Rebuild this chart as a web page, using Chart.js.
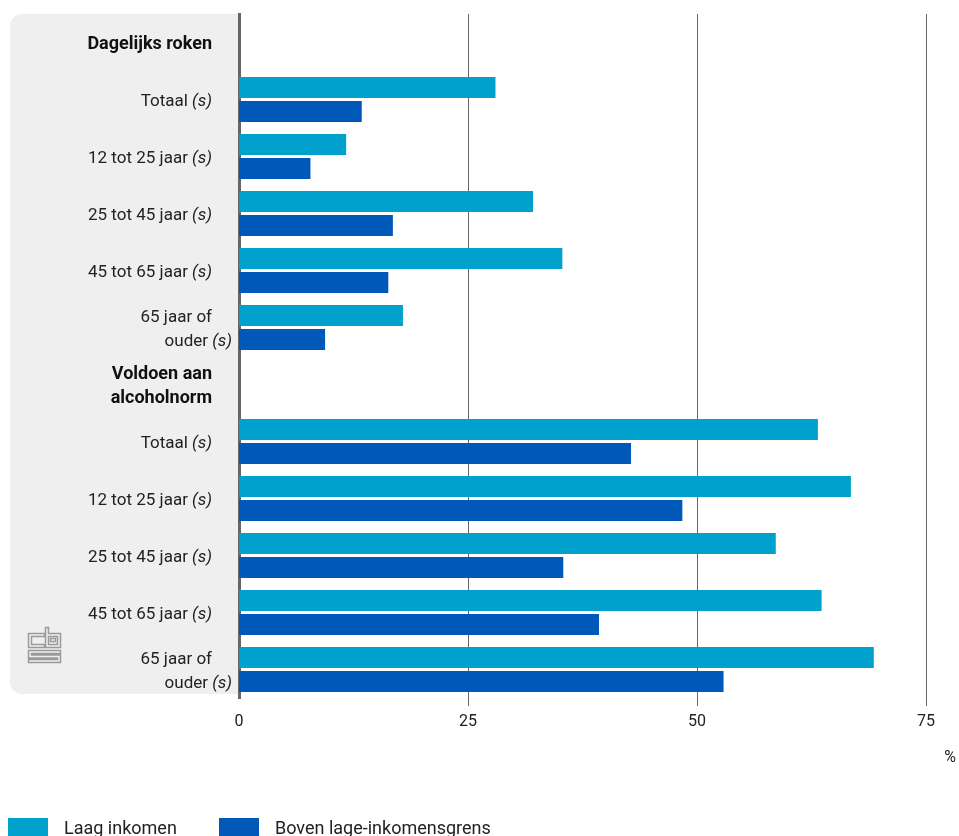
<!DOCTYPE html>
<html>
<head>
<meta charset="utf-8">
<script src="https://cdn.jsdelivr.net/npm/chart.js@4"></script>
<style>
  html, body { margin: 0; padding: 0; background: #fff; }
  #wrap { width: 959px; height: 836px; overflow: hidden; }
</style>
</head>
<body>
<div id="wrap"><canvas id="chart" width="959" height="836"></canvas></div>
<script>
// --- DATA ---
const categories = [
    ['Dagelijks roken'],
    ['Totaal'],
    ['12 tot 25 jaar'],
    ['25 tot 45 jaar'],
    ['45 tot 65 jaar'],
    ['65 jaar of', 'ouder'],
    ['Voldoen aan', 'alcoholnorm'],
    ['Totaal'],
    ['12 tot 25 jaar'],
    ['25 tot 45 jaar'],
    ['45 tot 65 jaar'],
    ['65 jaar of', 'ouder']
];
const isHeader = [true, false, false, false, false, false, true, false, false, false, false, false];
const suffix = '(s)';

const laagInkomen = [null, 28.0, 11.7, 32.1, 35.3, 17.9, null, 63.2, 66.8, 58.6, 63.6, 69.3];
const bovenGrens  = [null, 13.4, 7.8, 16.8, 16.3, 9.4, null, 42.8, 48.4, 35.4, 39.3, 52.9];

const seriesNames = ['Laag inkomen', 'Boven lage-inkomensgrens'];
const seriesColors = ['#00a1cd', '#0058b8'];
const xTicks = [0, 25, 50, 75];
const unitLabel = '%';

const FONT = 'Roboto, "Open Sans", sans-serif';

// --- PLUGIN: panel, labels, legend ---
const decorPlugin = {
    id: 'decor',
    beforeDraw(chart) {
        const { ctx, chartArea } = chart;
        // grey label panel, rounded on the left
        ctx.save();
        ctx.fillStyle = '#efefef';
        ctx.beginPath();
        ctx.roundRect(10, chartArea.top, chartArea.left - 10, 694 - chartArea.top, [12, 0, 0, 12]);
        ctx.fill();
        drawLogo(ctx, 28, 627);
        ctx.restore();
    },
    afterDraw(chart) {
        const { ctx } = chart;
        const yScale = chart.scales.y;
        const rightEdge = 212;

        ctx.save();
        ctx.textBaseline = 'middle';
        categories.forEach((lines, i) => {
            const yc = yScale.getPixelForValue(i) + 2;
            const lh = 23.5;
            const y0 = yc - (lines.length - 1) * lh / 2;
            lines.forEach((line, j) => {
                const y = y0 + j * lh;
                if (isHeader[i]) {
                    ctx.font = `bold 18px ${FONT}`;
                    ctx.fillStyle = '#111';
                    ctx.textAlign = 'right';
                    ctx.fillText(line, rightEdge, y);
                    return;
                }
                const last = j === lines.length - 1;
                ctx.fillStyle = '#222';
                if (!last) {
                    ctx.font = `17px ${FONT}`;
                    ctx.textAlign = 'right';
                    ctx.fillText(line, rightEdge, y);
                    return;
                }
                ctx.font = `italic 17px ${FONT}`;
                const sw = ctx.measureText(suffix).width;
                ctx.font = `17px ${FONT}`;
                const spaceW = ctx.measureText(' ').width;
                // wrapped labels: suffix hangs past the edge
                const mainRight = lines.length > 1 ? rightEdge - 4 : rightEdge - sw - spaceW;
                ctx.textAlign = 'right';
                ctx.fillText(line, mainRight, y);
                ctx.font = `italic 17px ${FONT}`;
                ctx.textAlign = 'left';
                ctx.fillText(suffix, mainRight + spaceW, y);
            });
        });

        // unit label
        ctx.font = `16px ${FONT}`;
        ctx.fillStyle = '#222';
        ctx.textAlign = 'center';
        ctx.fillText(unitLabel, 950, 758);

        // legend
        const legendX = [8, 219];
        ctx.font = `18px ${FONT}`;
        ctx.textAlign = 'left';
        ctx.textBaseline = 'alphabetic';
        seriesNames.forEach((name, k) => {
            ctx.fillStyle = seriesColors[k];
            ctx.fillRect(legendX[k], 818, 40, 20);
            ctx.fillStyle = '#222';
            ctx.fillText(name, legendX[k] + 56, 834);
        });
        ctx.restore();
    }
};

function drawLogo(ctx, x, y) {
    // simplified cbs mark, drawn as hollow strokes
    const paths = [
        [[x + 15, y + 8], [x + 2, y + 8], [x + 2, y + 19], [x + 15, y + 19]],
        [[x + 19, y + 2], [x + 19, y + 19], [x + 31, y + 19], [x + 31, y + 8], [x + 19, y + 8]],
        [[x + 24, y + 13], [x + 26, y + 13]],
        [[x + 31, y + 25], [x + 2, y + 25], [x + 2, y + 29.5], [x + 31, y + 29.5], [x + 31, y + 34], [x + 2, y + 34]]
    ];
    ctx.lineJoin = 'miter';
    ctx.lineCap = 'square';
    [['#9a9a9a', 4.5], ['#efefef', 1.5]].forEach(([c, w]) => {
        ctx.strokeStyle = c;
        ctx.lineWidth = w;
        paths.forEach(p => {
            ctx.beginPath();
            p.forEach(([px, py], n) => n ? ctx.lineTo(px, py) : ctx.moveTo(px, py));
            ctx.stroke();
        });
    });
}

// --- CHART ---
const ctx = document.getElementById('chart');
new Chart(ctx, {
    type: 'bar',
    data: {
        labels: categories.map(l => l.join(' ')),
        datasets: [{
            label: seriesNames[0],
            data: laagInkomen,
            backgroundColor: seriesColors[0],
            barPercentage: 0.875,
            categoryPercentage: 0.842
        }, {
            label: seriesNames[1],
            data: bovenGrens,
            backgroundColor: seriesColors[1],
            barPercentage: 0.875,
            categoryPercentage: 0.842
        }]
    },
    options: {
        indexAxis: 'y',
        responsive: false,
        animation: false,
        layout: { padding: { left: 239, top: 14, right: 33, bottom: 0 } },
        plugins: { legend: { display: false }, tooltip: { enabled: false } },
        scales: {
            x: {
                min: 0,
                max: 75,
                afterBuildTicks: s => { s.ticks = xTicks.map(v => ({ value: v })); },
                afterFit: s => { s.height = 836 - 698; },
                ticks: { color: '#222', font: { family: FONT, size: 16 }, padding: 6, maxRotation: 0 },
                grid: {
                    color: '#666',
                    lineWidth: c => (c.tick && c.tick.value === 0 ? 0 : 1),
                    tickLength: 8
                },
                border: { display: false }
            },
            y: {
                ticks: { display: false },
                grid: { display: false, drawTicks: false },
                border: { display: true, color: '#666', width: 3 }
            }
        }
    },
    plugins: [decorPlugin]
});
</script>
</body>
</html>
